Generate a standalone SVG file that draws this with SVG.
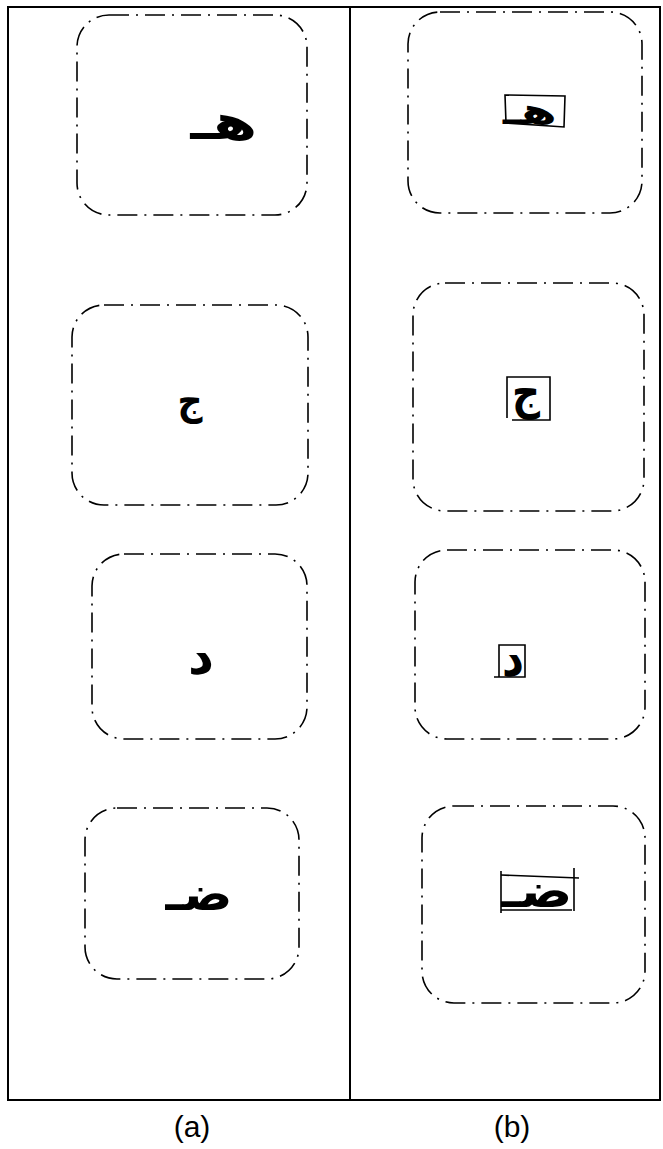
<svg xmlns="http://www.w3.org/2000/svg" width="663" height="1149" viewBox="0 0 663 1149">
<style>
.frame{fill:none;stroke:#000;stroke-width:2}
.box{fill:none;stroke:#000;stroke-width:1.6;stroke-dasharray:20 7 2 7}
.g{font-family:"DejaVu Sans",sans-serif;font-weight:bold;fill:#000;text-anchor:middle}
.seg{fill:none;stroke:#000;stroke-width:1.6}
.lbl{font-family:"Liberation Sans",Arial,sans-serif;font-size:30px;fill:#000;text-anchor:middle}
</style>
<rect width="663" height="1149" fill="#fff"/>
<g id="table">
<rect class="frame" x="8" y="7" width="652" height="1093"/>
<line class="frame" x1="350" y1="7" x2="350" y2="1100"/>
</g>
<g id="a1"><rect class="box" x="77" y="15" width="230" height="200" rx="32"/><text class="g" x="224" y="139" font-size="48" textLength="67" lengthAdjust="spacingAndGlyphs">هـ</text></g>
<g id="a2"><rect class="box" x="72" y="305" width="236" height="200" rx="32"/><text class="g" x="190" y="414" font-size="40" textLength="25" lengthAdjust="spacingAndGlyphs">ج</text></g>
<g id="a3"><rect class="box" x="92" y="554" width="215" height="185" rx="32"/><text class="g" x="201" y="674" font-size="50" textLength="26" lengthAdjust="spacingAndGlyphs">د</text></g>
<g id="a4"><rect class="box" x="85" y="808" width="214" height="171" rx="32"/><text class="g" x="199" y="910" font-size="46" textLength="67" lengthAdjust="spacingAndGlyphs">ضـ</text></g>
<g id="b1"><rect class="box" x="408" y="12" width="234" height="201" rx="32"/><text class="g" x="530" y="124" font-size="36" textLength="54" lengthAdjust="spacingAndGlyphs">هـ</text><polygon class="seg" points="505,95 565,96 564,127 506,123"/></g>
<g id="b2"><rect class="box" x="413" y="283" width="231" height="228" rx="32"/><text class="g" x="526" y="408" font-size="48" textLength="28" lengthAdjust="spacingAndGlyphs">ج</text><polyline class="seg" points="507,418 507,377 550,377 550,420 512,420"/></g>
<g id="b3"><rect class="box" x="415" y="550" width="230" height="189" rx="32"/><text class="g" x="513" y="676" font-size="50" textLength="22" lengthAdjust="spacingAndGlyphs">د</text><polyline class="seg" points="494,677 525,677 525,645 499,645 499,677"/></g>
<g id="b4"><rect class="box" x="422" y="806" width="223" height="197" rx="32"/><text class="g" x="537" y="907" font-size="46" textLength="71" lengthAdjust="spacingAndGlyphs">ضـ</text><line class="seg" x1="501" y1="875" x2="579" y2="878"/><line class="seg" x1="501" y1="871" x2="501" y2="913"/><line class="seg" x1="574" y1="868" x2="574" y2="911"/><line class="seg" x1="501" y1="910" x2="572" y2="910"/></g>
<g id="labels"><text class="lbl" x="192" y="1137">(a)</text><text class="lbl" x="512" y="1137">(b)</text></g>
</svg>
